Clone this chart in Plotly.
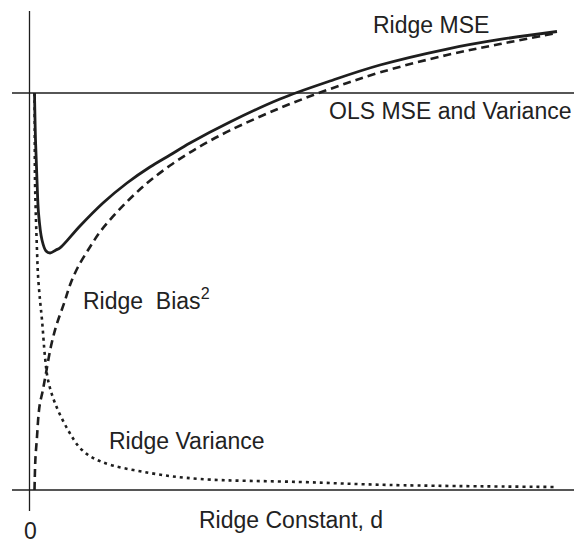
import plotly.graph_objects as go

# Ridge MSE (solid)
mse_d = [0.0095, 0.0114, 0.0142, 0.0171, 0.0237, 0.0313, 0.0389, 0.0502, 0.0578, 0.0957,
         0.1393, 0.1848, 0.2284, 0.2664, 0.3043, 0.3801, 0.4749, 0.5697, 0.6645, 0.7915,
         0.8919, 1.0]
mse_v = [1.0, 0.8816, 0.7809, 0.6977, 0.6297, 0.6020, 0.5970, 0.6045, 0.6096, 0.6650,
         0.7229, 0.7733, 0.8136, 0.8438, 0.8741, 0.9270, 0.9849, 1.0302, 1.0705, 1.1108,
         1.1348, 1.1549]

# Ridge Bias^2 (dashed)
bias_d = [0.0095, 0.0104, 0.0114, 0.0142, 0.0171, 0.0199, 0.0246, 0.0313, 0.0408, 0.0512,
          0.0664, 0.0768, 0.0919, 0.1147, 0.1336, 0.1583, 0.1848, 0.2095, 0.2341, 0.2664,
          0.2986, 0.3289, 0.3801, 0.4749, 0.5697, 0.6645, 0.7915, 0.8919, 1.0]
bias_v = [0.0, 0.0504, 0.0831, 0.1335, 0.1889, 0.2191, 0.2469, 0.2947, 0.3627, 0.4156,
          0.4736, 0.5164, 0.5617, 0.6121, 0.6499, 0.6892, 0.7262, 0.7574, 0.7851, 0.8174,
          0.8456, 0.8698, 0.9058, 0.9622, 1.0101, 1.0519, 1.0957, 1.1234, 1.1511]

# Ridge Variance (dotted)
var_d = [0.0095, 0.0099, 0.0104, 0.0123, 0.0142, 0.0161, 0.0199, 0.0237, 0.0294, 0.0351,
         0.0483, 0.0730, 0.0995, 0.1374, 0.2284, 0.3232, 0.5128, 0.6835, 1.0]
var_v = [1.0, 0.9068, 0.7809, 0.6801, 0.6045, 0.5416, 0.4786, 0.4282, 0.3350, 0.2771,
         0.2191, 0.1511, 0.1008, 0.0705, 0.0428, 0.0277, 0.0202, 0.0126, 0.0076]

ols_mse = 1.0

W, H = 574, 540
X0, XS = 29.5, 527.5   # pixel of d=0, pixels per unit d
Y0, YS = 490.0, 397.0  # pixel of value 0, pixels per unit value


def px_x(p):
    return (p - X0) / XS


def px_y(p):
    return (Y0 - p) / YS


INK = "#1e1e1e"
FONT = "Liberation Sans, Arial, sans-serif"

fig = go.Figure()
fig.add_trace(go.Scatter(x=var_d, y=var_v, mode="lines",
                         line=dict(color=INK, width=2.6, dash="3px,4px"),
                         line_shape="spline", hoverinfo="skip"))
fig.add_trace(go.Scatter(x=bias_d, y=bias_v, mode="lines",
                         line=dict(color=INK, width=2.6, dash="8px,5px"),
                         line_shape="spline", hoverinfo="skip"))
fig.add_trace(go.Scatter(x=mse_d, y=mse_v, mode="lines",
                         line=dict(color=INK, width=2.8),
                         line_shape="spline", hoverinfo="skip"))

shapes = [
    # vertical axis
    dict(type="line", xref="x", yref="y", x0=0, x1=0, y0=px_y(511), y1=px_y(11),
         line=dict(color=INK, width=1.3)),
    # horizontal axis
    dict(type="line", xref="paper", yref="y", x0=12 / W, x1=1, y0=0, y1=0,
         line=dict(color=INK, width=1.3)),
    # OLS MSE level
    dict(type="line", xref="paper", yref="y", x0=12 / W, x1=1, y0=ols_mse, y1=ols_mse,
         line=dict(color=INK, width=1.3)),
]

tf = dict(family=FONT, size=23, color="#222222")
ann = [
    dict(text="Ridge MSE", x=px_x(371), y=px_y(25), xanchor="left", yanchor="middle"),
    dict(text="OLS MSE and Variance", x=px_x(327), y=px_y(111), xanchor="left", yanchor="middle"),
    dict(text="Ridge&nbsp;&nbsp;Bias<sup>2</sup>", x=px_x(81), y=px_y(299), xanchor="left", yanchor="middle"),
    dict(text="Ridge Variance", x=px_x(107), y=px_y(441), xanchor="left", yanchor="middle"),
    dict(text="Ridge Constant, d", x=px_x(291), y=px_y(520), xanchor="center", yanchor="middle"),
    dict(text="0", x=px_x(30), y=px_y(531), xanchor="center", yanchor="middle"),
]
for a in ann:
    a.update(xref="x", yref="y", showarrow=False, font=tf)

fig.update_layout(
    width=W, height=H,
    margin=dict(l=0, r=0, t=0, b=0),
    paper_bgcolor="white", plot_bgcolor="white",
    showlegend=False,
    xaxis=dict(range=[px_x(0), px_x(W)], visible=False, fixedrange=True),
    yaxis=dict(range=[px_y(H), px_y(0)], visible=False, fixedrange=True),
    shapes=shapes,
    annotations=ann,
)

fig.write_html("out.html", config={"displayModeBar": False},
               post_script="document.body.style.margin='0';document.body.style.overflow='hidden';")
